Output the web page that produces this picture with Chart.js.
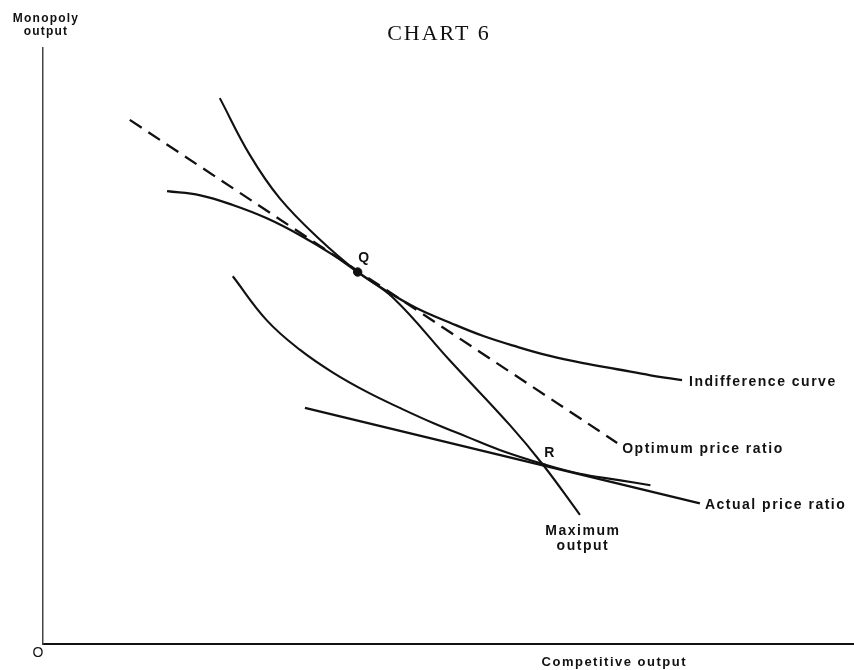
<!DOCTYPE html>
<html>
<head>
<meta charset="utf-8">
<title>Chart 6</title>
<script src="https://cdn.jsdelivr.net/npm/chart.js@4.4.0/dist/chart.umd.min.js"></script>
<style>
  html, body { margin: 0; padding: 0; background: #fff; overflow: hidden; }
  #wrap { width: 854px; height: 670px; }
  canvas { display: block; }
</style>
</head>
<body>
<div id="wrap"><canvas id="chart6" width="854" height="670"></canvas></div>
<script>
"use strict";

// values, in axis units (x 0-100, y 0-98.7)
const upperCurveX = [15.3, 19.4, 23.4, 27.6, 31.7, 35.8, 38.8, 42.2, 46.1, 50.2, 54.3, 58.5, 62.5, 66.6, 70.8, 74.9, 78.8];
const upperCurveY = [75.0, 74.3, 72.7, 70.5, 67.7, 64.4, 61.6, 58.6, 55.6, 53.2, 51.0, 49.2, 47.7, 46.5, 45.5, 44.5, 43.7];

const lowerCurveX = [23.4, 27.6, 31.7, 35.8, 40.0, 44.0, 48.1, 52.3, 56.4, 61.7, 66.2, 71.2, 74.9];
const lowerCurveY = [60.9, 53.6, 48.7, 44.9, 41.7, 39.1, 36.6, 34.3, 32.1, 29.8, 28.2, 27.1, 26.3];

const frontierX = [21.8, 25.5, 29.2, 34.2, 38.8, 43.2, 50.2, 57.6, 61.7, 66.2];
const frontierY = [90.4, 81.0, 73.8, 66.9, 61.6, 57.3, 46.9, 36.2, 29.6, 21.4];

const optimumX = [10.7, 70.8];
const optimumY = [86.8, 33.3];

const actualX = [32.3, 81.0];
const actualY = [39.1, 23.3];

const pointNames = ["Q", "R"];
const pointX = [38.8, 61.7];
const pointY = [61.6, 29.6];

const titleText = "CHART 6";
const yAxisLabel = ["Monopoly", "output"];
const xAxisLabel = "Competitive output";
const originLabel = "O";
const upperLabel = "Indifference curve";
const optimumLabel = "Optimum price ratio";
const actualLabel = "Actual price ratio";
const frontierLabel = ["Maximum", "output"];

const ink = "#111";

function toPoints(xs, ys) {
  return xs.map((x, i) => ({ x: x, y: ys[i] }));
}

function lineSet(label, xs, ys, width, dash) {
  return {
    label: label,
    data: toPoints(xs, ys),
    showLine: true,
    borderColor: ink,
    borderWidth: width,
    borderDash: dash || [],
    pointRadius: 0,
    tension: 0.4,
    fill: false,
  };
}

// labels sit next to the end of their line
function lastPixel(chart, index) {
  const pts = chart.getDatasetMeta(index).data;
  return pts[pts.length - 1];
}

const chartLabels = {
  id: "chartLabels",
  beforeDraw(chart) {
    const ctx = chart.ctx;
    ctx.save();
    ctx.fillStyle = "#fff";
    ctx.fillRect(0, 0, chart.width, chart.height);
    ctx.restore();
  },
  afterDatasetsDraw(chart) {
    const ctx = chart.ctx;
    const area = chart.chartArea;
    ctx.save();
    ctx.fillStyle = ink;
    ctx.textBaseline = "middle";

    ctx.font = 'bold 14px "Liberation Sans", Arial, sans-serif';
    ctx.letterSpacing = "1.5px";
    ctx.textAlign = "left";
    let p = lastPixel(chart, 0);
    ctx.fillText(upperLabel, p.x + 7, p.y + 2);
    p = lastPixel(chart, 3);
    ctx.fillText(optimumLabel, p.x + 5, p.y + 6);
    p = lastPixel(chart, 4);
    ctx.fillText(actualLabel, p.x + 5, p.y + 2);

    ctx.textAlign = "center";
    p = lastPixel(chart, 2);
    ctx.fillText(frontierLabel[0], p.x + 3, p.y + 16);
    ctx.fillText(frontierLabel[1], p.x + 3, p.y + 31);

    const dots = chart.getDatasetMeta(5).data;
    ctx.letterSpacing = "0px";
    ctx.fillText(pointNames[0], dots[0].x + 6, dots[0].y - 14);
    ctx.fillText(pointNames[1], dots[1].x + 6, dots[1].y - 12);

    // axis names
    ctx.font = 'bold 12px "Liberation Sans", Arial, sans-serif';
    ctx.letterSpacing = "1.2px";
    ctx.fillText(yAxisLabel[0], area.left + 3, 19);
    ctx.fillText(yAxisLabel[1], area.left + 3, 32);
    ctx.font = 'bold 13px "Liberation Sans", Arial, sans-serif';
    ctx.letterSpacing = "1.5px";
    ctx.textAlign = "right";
    ctx.fillText(xAxisLabel, 687, area.bottom + 18);
    ctx.textAlign = "center";
    ctx.letterSpacing = "0px";
    ctx.font = '14px "Liberation Sans", Arial, sans-serif';
    ctx.fillText(originLabel, area.left - 5, area.bottom + 9);

    ctx.font = '22px "Liberation Serif", "Times New Roman", serif';
    ctx.letterSpacing = "2px";
    ctx.fillText(titleText, 439, 34);
    ctx.restore();
  },
};

new Chart(document.getElementById("chart6"), {
  type: "scatter",
  data: {
    datasets: [
      lineSet(upperLabel, upperCurveX, upperCurveY, 2.3),
      lineSet("Lower indifference curve", lowerCurveX, lowerCurveY, 2.1),
      lineSet("Maximum output", frontierX, frontierY, 2.1),
      lineSet(optimumLabel, optimumX, optimumY, 2.3, [14, 8]),
      lineSet(actualLabel, actualX, actualY, 2.4),
      {
        label: "Points",
        data: toPoints(pointX, pointY),
        showLine: false,
        pointRadius: [4.2, 0],
        backgroundColor: ink,
        borderColor: ink,
      },
    ],
  },
  options: {
    responsive: false,
    animation: false,
    layout: { autoPadding: false, padding: { left: 43, right: 0, top: 48, bottom: 26 } },
    plugins: {
      legend: { display: false },
      tooltip: { enabled: false },
    },
    scales: {
      x: {
        type: "linear",
        min: 0,
        max: 100,
        grid: { display: false, drawTicks: false },
        ticks: { display: false },
        border: { display: true, color: ink, width: 2 },
        afterFit: (scale) => { scale.height = 0; },
      },
      y: {
        type: "linear",
        min: 0,
        max: 98.7,
        grid: { display: false, drawTicks: false },
        ticks: { display: false },
        border: { display: true, color: "#444", width: 1.5, dash: [9, 5] },
        afterFit: (scale) => { scale.width = 0; },
      },
    },
  },
  plugins: [chartLabels],
});
</script>
</body>
</html>
